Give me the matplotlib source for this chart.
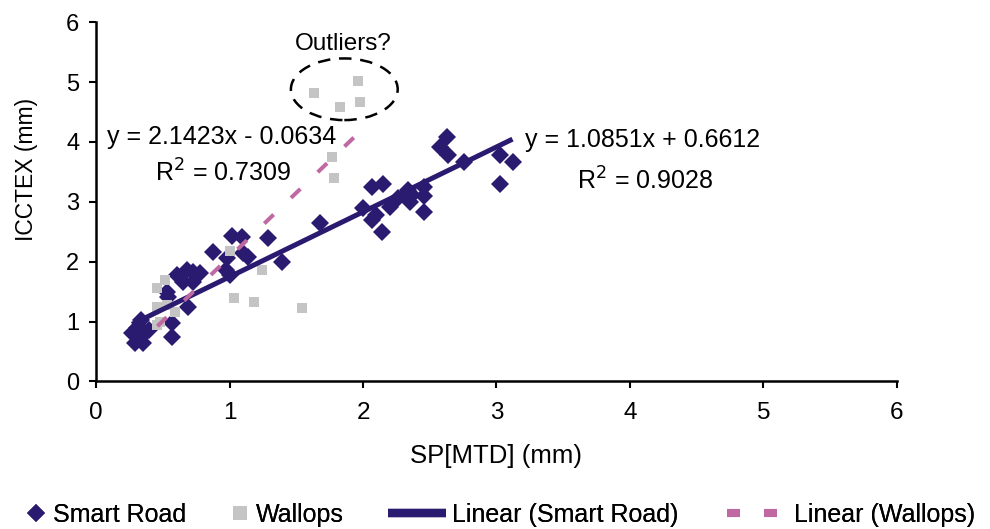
import numpy as np
import matplotlib
matplotlib.use("Agg")
import matplotlib.pyplot as plt
from matplotlib.patches import Ellipse
from matplotlib.lines import Line2D

plt.rcParams["font.family"] = ["Liberation Sans", "DejaVu Sans"]

# Smart Road measurements: SP[MTD] vs ICCTEX (mm)
smart_x = [0.27, 0.31, 0.29, 0.35, 0.37, 0.34, 0.33, 0.40, 0.57, 0.57,
           0.53, 0.54, 0.69, 0.61, 0.68, 0.73, 0.78, 0.65, 0.73, 0.88,
           0.98, 0.97, 1.00, 1.02, 1.09, 1.10, 1.14, 1.29, 1.39, 1.68,
           2.00, 2.07, 2.15, 2.10, 2.07, 2.14, 2.20, 2.26, 2.34, 2.35,
           2.37, 2.46, 2.46, 2.46, 2.76, 2.58, 2.63, 2.64, 3.03, 3.12,
           3.03]
smart_y = [0.81, 0.89, 0.64, 0.64, 0.81, 1.03, 0.74, 0.86, 0.98, 0.74,
           1.50, 1.41, 1.25, 1.78, 1.86, 1.83, 1.81, 1.66, 1.66, 2.16,
           2.06, 1.86, 1.78, 2.43, 2.42, 2.15, 2.07, 2.40, 2.00, 2.65,
           2.90, 3.24, 3.29, 2.78, 2.70, 2.50, 2.92, 3.07, 3.20, 3.00,
           3.12, 3.24, 3.09, 2.83, 3.67, 3.92, 4.09, 3.79, 3.79, 3.67,
           3.29]

# Wallops measurements
wallops_x = [1.63, 1.83, 1.96, 1.98, 1.77, 1.78, 1.00, 1.24, 1.03, 1.18,
             1.54, 0.52, 0.46, 0.46, 0.59, 0.46, 0.53, 0.48]
wallops_y = [4.82, 4.59, 5.01, 4.67, 3.75, 3.40, 2.18, 1.86, 1.40, 1.33,
             1.23, 1.70, 1.56, 1.25, 1.16, 0.94, 1.28, 1.00]

# trendline coefficients as printed on the chart
smart_fit = (1.0851, 0.6612)
wallops_fit = (2.1423, -0.0634)

navy = "#2B1B70"
grey = "#C4C4C4"
pink = "#C068A2"

fig = plt.figure(figsize=(9.9, 5.29), dpi=100)
ax = fig.add_axes([0.097, 0.279, 0.809, 0.679])

ax.plot(smart_x, smart_y, "D", color=navy, ms=8.7, mew=0, zorder=2)
ax.plot(wallops_x, wallops_y, "s", color=grey, ms=7.8, mew=0, zorder=3)

xs = np.array([min(smart_x), max(smart_x)])
ax.plot(xs, smart_fit[0] * xs + smart_fit[1], color=navy, lw=3.6,
        solid_capstyle="butt", zorder=4)
xw = np.array([min(wallops_x), max(wallops_x)])
ax.plot(xw, wallops_fit[0] * xw + wallops_fit[1], color=pink, lw=2.9,
        linestyle=(0, (3.2, 6)), dash_capstyle="butt", zorder=5)

ax.add_patch(Ellipse((1.86, 4.88), 0.80, 1.03, fill=False, edgecolor="black",
                     lw=1.8, linestyle=(0, (5, 3.5)), zorder=6))
ax.text(1.85, 5.64, "Outliers?", fontsize=17.5, ha="center", va="center")

ax.text(0.08, 4.08, "y = 2.1423x - 0.0634", fontsize=18, ha="left", va="center")
ax.text(0.44, 3.48, "R$^2$ = 0.7309", fontsize=18, ha="left", va="center")
ax.text(3.21, 4.03, "y = 1.0851x + 0.6612", fontsize=18, ha="left", va="center")
ax.text(3.60, 3.35, "R$^2$ = 0.9028", fontsize=18, ha="left", va="center")

ax.set_xlim(0, 6)
ax.set_ylim(0, 6)
ax.set_xticks(range(7))
ax.set_yticks(range(7))
ax.tick_params(direction="out", length=5, width=1.5)
ax.tick_params(axis="x", labelsize=17.5, pad=10)
ax.tick_params(axis="y", labelsize=17, pad=7)
ax.spines["top"].set_visible(False)
ax.spines["right"].set_visible(False)
ax.spines["left"].set_linewidth(1.8)
ax.spines["bottom"].set_linewidth(1.8)
ax.set_xlabel("SP[MTD] (mm)", fontsize=18.5)
ax.set_ylabel("ICCTEX (mm)", fontsize=16.5)
ax.xaxis.set_label_coords(0.5, -0.175)
ax.yaxis.set_label_coords(-0.072, 0.59)

# legend entries laid out along the bottom, one legend per entry
entries = [
    (Line2D([], [], ls="none", marker="D", color=navy, ms=8.7, mew=0),
     "Smart Road", 26, 0.8, 0.28),
    (Line2D([], [], ls="none", marker="s", color=grey, ms=10.5, mew=0),
     "Wallops", 230, 0.8, 0.24),
    (Line2D([], [], color=navy, lw=6, solid_capstyle="butt"),
     "Linear (Smart Road)", 388, 2.32, 0.24),
    (Line2D([], [], color=pink, lw=5.8, ls=(0, (1.6, 3.0)), dash_capstyle="butt"),
     "Linear (Wallops)", 727, 2.0, 0.66),
]
for handle, label, x0, hlen, hpad in entries:
    leg = fig.legend([handle], [label], loc="center left",
                     bbox_to_anchor=(x0 / 990, 1 - 515 / 529), frameon=False,
                     fontsize=18, handlelength=hlen, handletextpad=hpad,
                     borderpad=0, borderaxespad=0)
    fig.add_artist(leg)

fig.savefig("out.png", dpi=100)
